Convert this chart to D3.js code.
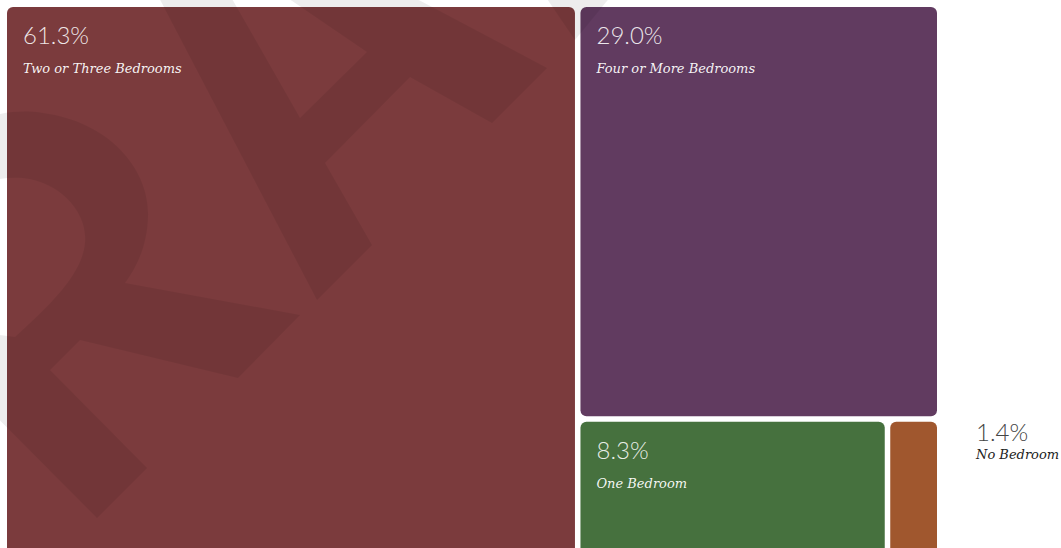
<!DOCTYPE html>
<html>
<head>
<meta charset="utf-8">
<script src="https://cdn.jsdelivr.net/npm/d3@7"></script>
<style>
  html, body { margin: 0; padding: 0; background: #fff; overflow: hidden; }
  svg { display: block; }
</style>
</head>
<body>
<div id="chart"></div>
<script>
// --- DATA ---
const categories = ["Two or Three Bedrooms", "Four or More Bedrooms", "One Bedroom", "No Bedroom"];
const shares = [61.3, 29.0, 8.3, 1.4];
const colors = ["#7b3b3d", "#613b60", "#46713e", "#a0572e"];

// --- CONFIG ---
const WIDTH = 1061;
const HEIGHT = 548;
const MARGIN = { top: 7, left: 7 };
const MAP_W = 930;
const MAP_H = 548;

// faint logo in the background (decoration only)
const LOGO_PATHS = [
  "M155,-10 L227,-10 L300,118 L367,52 L276,-10 L400,-10 L547,68 L492,123 L410,77 L325,163 L372,245 L317,300 Z",
  "M541,-10 L616,-10 L575,40 Z",
  "M-60,150 C-30,115 10,108 43,113 C110,122 150,170 148,217 C147,245 138,265 125,283 L300,315 L238,378 L80,340 L50,370 L147,468 L97,518 L-60,360 Z " +
  "M-40,200 C-20,182 0,176 23,178 C60,182 88,212 85,243 C82,275 50,305 15,337 L-40,330 Z"
];

const svg = d3.select("#chart")
  .append("svg")
  .attr("width", WIDTH)
  .attr("height", HEIGHT);

const data = {
  name: "root",
  children: categories.map((c, i) => ({ name: c, value: shares[i], color: colors[i] }))
};

const root = d3.hierarchy(data)
  .sum(d => d.value || 0)
  .sort((a, b) => b.value - a.value);

d3.treemap()
  .tile(d3.treemapSquarify)
  .size([MAP_W, MAP_H])
  .paddingInner(5.5)
  .round(false)(root);

const g = svg.append("g")
  .attr("transform", `translate(${MARGIN.left},${MARGIN.top})`);

const leaves = root.leaves();

g.selectAll("rect.cell")
  .data(leaves)
  .join("rect")
  .attr("class", "cell")
  .attr("x", d => d.x0)
  .attr("y", d => d.y0)
  .attr("width", d => d.x1 - d.x0)
  .attr("height", d => d.y1 - d.y0)
  .attr("rx", 6)
  .attr("ry", 6)
  .attr("fill", d => d.data.color);

// watermark sits over the cells, under the text
svg.append("g")
  .selectAll("path")
  .data(LOGO_PATHS)
  .join("path")
  .attr("d", d => d)
  .attr("fill", "#000")
  .attr("fill-opacity", 0.07)
  .attr("fill-rule", "evenodd");

const fmt = d => d3.format(".1f")(d) + "%";
const PCT_FONT = "Lato, 'Open Sans', sans-serif";
const LBL_FONT = "'DejaVu Serif', serif";
const fits = d => (d.x1 - d.x0) > 100;

const labels = svg.append("g")
  .attr("transform", `translate(${MARGIN.left},${MARGIN.top})`)
  .selectAll("g")
  .data(leaves)
  .join("g")
  .attr("transform", d => fits(d) ? `translate(${d.x0 + 16},${d.y0})` : `translate(${d.x1 + 39},${d.y0})`);

labels.append("text")
  .attr("y", d => fits(d) ? 37 : 19)
  .style("font-family", PCT_FONT)
  .style("font-weight", 300)
  .style("font-size", "24px")
  .style("fill", d => fits(d) ? "rgba(255,255,255,0.88)" : "#444")
  .text(d => fmt(d.data.value));

labels.append("text")
  .attr("y", d => fits(d) ? 66 : 37)
  .style("font-family", LBL_FONT)
  .style("font-style", "italic")
  .style("font-size", "13px")
  .style("fill", d => fits(d) ? "rgba(255,255,255,0.95)" : "#222")
  .text(d => d.data.name);
</script>
</body>
</html>
